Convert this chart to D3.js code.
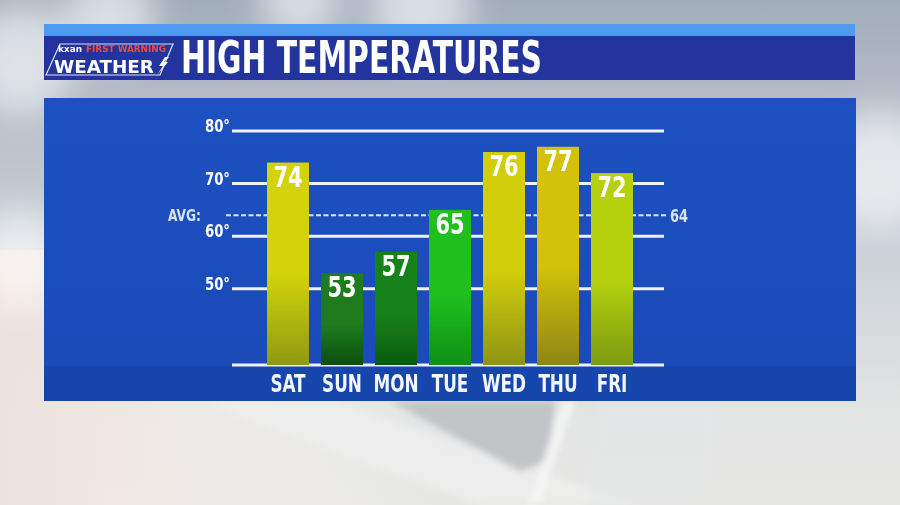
<!DOCTYPE html>
<html><head><meta charset="utf-8">
<script src="https://cdn.jsdelivr.net/npm/d3@7"></script>
<style>
html,body{margin:0;padding:0;overflow:hidden;background:#dde0e2;}
text{font-family:"Liberation Sans Narrow","DejaVu Sans Condensed","Roboto",sans-serif;font-weight:bold;}
</style></head>
<body><svg id="c" width="900" height="505"></svg>
<script>
const days = ["SAT","SUN","MON","TUE","WED","THU","FRI"];
const highs = [74,53,57,65,76,77,72];
const tickValues = [50,60,70,80];
const avgTemp = 64;
const title = "HIGH TEMPERATURES";

const barTop = ["#d2d30c","#1f7c1d","#18821a","#1fc01e","#d3ce0c","#d3c20b","#b5d10d"];
const barBot = ["#8e9a12","#0b4f10","#0b5a0e","#0f8f17","#8f9413","#8c8714","#7c9b12"];

const svg = d3.select("#c");
const defs = svg.append("defs");
const blur = defs.append("filter").attr("id","blur").attr("x","-50%").attr("y","-50%").attr("width","200%").attr("height","200%");
blur.append("feGaussianBlur").attr("stdDeviation",18);
const blur2 = defs.append("filter").attr("id","blur2");
blur2.append("feGaussianBlur").attr("stdDeviation",3);

// background
const bg = defs.append("linearGradient").attr("id","bg").attr("x1",0).attr("y1",0).attr("x2",0).attr("y2",1);
bg.append("stop").attr("offset",0).attr("stop-color","#a2adbb");
bg.append("stop").attr("offset",0.35).attr("stop-color","#c0c7cf");
bg.append("stop").attr("offset",0.8).attr("stop-color","#e2e4e4");
bg.append("stop").attr("offset",1).attr("stop-color","#e6e6e4");
svg.append("rect").attr("width",900).attr("height",505).attr("fill","url(#bg)");
const bgL = defs.append("linearGradient").attr("id","bgL").attr("x1",0).attr("y1",0).attr("x2",1).attr("y2",0);
bgL.append("stop").attr("offset",0).attr("stop-color","#efe1da").attr("stop-opacity",0.9);
bgL.append("stop").attr("offset",0.5).attr("stop-color","#ffffff").attr("stop-opacity",0);
svg.append("rect").attr("y",250).attr("width",900).attr("height",255).attr("fill","url(#bgL)");
// clouds
const cl = svg.append("g").attr("filter","url(#blur)");
[[20,60,55],[110,15,45],[420,5,50],[880,170,60],[20,260,50],[300,0,40]].forEach(c=>{
  cl.append("circle").attr("cx",c[0]).attr("cy",c[1]).attr("r",c[2]).attr("fill","#ffffff").attr("opacity",0.6);
});
// diagonal light shapes
const sh = svg.append("g").attr("filter","url(#blur2)");
sh.append("polygon").attr("points","200,401 330,401 640,505 480,505").attr("fill","#f2f2f1").attr("opacity",0.6);
sh.append("polygon").attr("points","390,401 555,401 548,460 520,472").attr("fill","#b3b7ba").attr("opacity",0.7);
sh.append("polygon").attr("points","563,401 575,401 540,505 528,505").attr("fill","#f8f8f8").attr("opacity",0.8);
sh.append("polygon").attr("points","600,401 720,401 700,505 585,505").attr("fill","#e6e8ea").attr("opacity",0.5);

// header
svg.append("rect").attr("x",44).attr("y",24).attr("width",811).attr("height",13).attr("fill","#4d9af0");
svg.append("rect").attr("x",44).attr("y",36).attr("width",811).attr("height",44).attr("fill","#23349e");
// logo
const lg = svg.append("g");
lg.append("polygon").attr("points","60,44 173,44 160,75 46,75").attr("fill","none").attr("stroke","#ffffff").attr("stroke-width",1.2).attr("opacity",0.85);
lg.append("text").attr("x",58).attr("y",52).attr("fill","#ffffff").attr("font-size",9).attr("textLength",24).attr("lengthAdjust","spacingAndGlyphs").text("kxan");
lg.append("text").attr("x",86).attr("y",52).attr("fill","#f0483c").attr("font-size",9).attr("textLength",80).attr("lengthAdjust","spacingAndGlyphs").text("FIRST WARNING");
lg.append("text").attr("x",54).attr("y",73).attr("fill","#ffffff").attr("font-size",17).attr("font-family","DejaVu Sans").attr("textLength",100).attr("lengthAdjust","spacingAndGlyphs").text("WEATHER");
lg.append("polygon").attr("points","165,57 159,66 163,66 157,75 168,62 164,62 169,57").attr("fill","#ffffff");
svg.append("text").attr("x",181).attr("y",73).attr("fill","#ffffff").attr("font-size",44).attr("textLength",361).attr("lengthAdjust","spacingAndGlyphs").text(title);

// panel
const pg = defs.append("linearGradient").attr("id","pg").attr("x1",0).attr("y1",0).attr("x2",0).attr("y2",1);
pg.append("stop").attr("offset",0).attr("stop-color","#1d50c0");
pg.append("stop").attr("offset",1).attr("stop-color","#1a4ab8");
svg.append("rect").attr("x",44).attr("y",98).attr("width",812).attr("height",303).attr("fill","url(#pg)");
svg.append("rect").attr("x",44).attr("y",366).attr("width",812).attr("height",35).attr("fill","#1645ac");

const y = d3.scaleLinear().domain([35.5,80]).range([365,131]);
const x = d3.scaleBand().domain(days).range([261,639]).paddingInner(12/54).paddingOuter(6/54);

// grid lines
svg.append("g").selectAll("line").data(tickValues).join("line")
  .attr("x1",232).attr("x2",664).attr("y1",d=>y(d)).attr("y2",d=>y(d))
  .attr("stroke","#eef2ff").attr("stroke-width",3);
svg.append("line").attr("x1",232).attr("x2",664).attr("y1",y(35.5)).attr("y2",y(35.5)).attr("stroke","#eef2ff").attr("stroke-width",3);
svg.append("g").selectAll("text").data(tickValues).join("text")
  .attr("transform",d=>`translate(230,${y(d)+1}) scale(0.82,1)`).attr("text-anchor","end").attr("fill","#ffffff").attr("font-size",18)
  .text(d=>d+"°");
// avg
svg.append("line").attr("x1",226).attr("x2",666).attr("y1",y(avgTemp)).attr("y2",y(avgTemp))
  .attr("stroke","#dfe6ff").attr("stroke-width",2).attr("stroke-dasharray","5,2.5");
svg.append("text").attr("transform",`translate(201,${y(avgTemp)+6}) scale(0.85,1)`).attr("text-anchor","end").attr("fill","#d9e2fa").attr("font-size",16).text("AVG:");
svg.append("text").attr("transform",`translate(670,${y(avgTemp)+7}) scale(0.85,1)`).attr("fill","#d9e2fa").attr("font-size",17).text(avgTemp);

// bars
days.forEach((d,i)=>{
  const g = defs.append("linearGradient").attr("id","b"+i).attr("x1",0).attr("y1",0).attr("x2",0).attr("y2",1);
  g.append("stop").attr("offset",0).attr("stop-color",barTop[i]);
  g.append("stop").attr("offset",0.55).attr("stop-color",barTop[i]);
  g.append("stop").attr("offset",1).attr("stop-color",barBot[i]);
});
svg.append("g").selectAll("rect").data(highs).join("rect")
  .attr("x",(d,i)=>x(days[i])).attr("width",x.bandwidth())
  .attr("y",d=>y(d)).attr("height",d=>y(35.5)-y(d))
  .attr("fill",(d,i)=>"url(#b"+i+")");
svg.append("g").selectAll("text").data(highs).join("text")
  .attr("transform",(d,i)=>`translate(${x(days[i])+x.bandwidth()/2},${y(d)+24}) scale(0.8,1)`)
  .attr("text-anchor","middle").attr("fill","#ffffff").attr("font-size",29).text(d=>d);
// day labels
svg.append("g").selectAll("text").data(days).join("text")
  .attr("transform",d=>`translate(${x(d)+x.bandwidth()/2},392) scale(0.78,1)`)
  .attr("text-anchor","middle").attr("fill","#f4f6ff").attr("font-size",24).text(d=>d);
</script></body></html>
